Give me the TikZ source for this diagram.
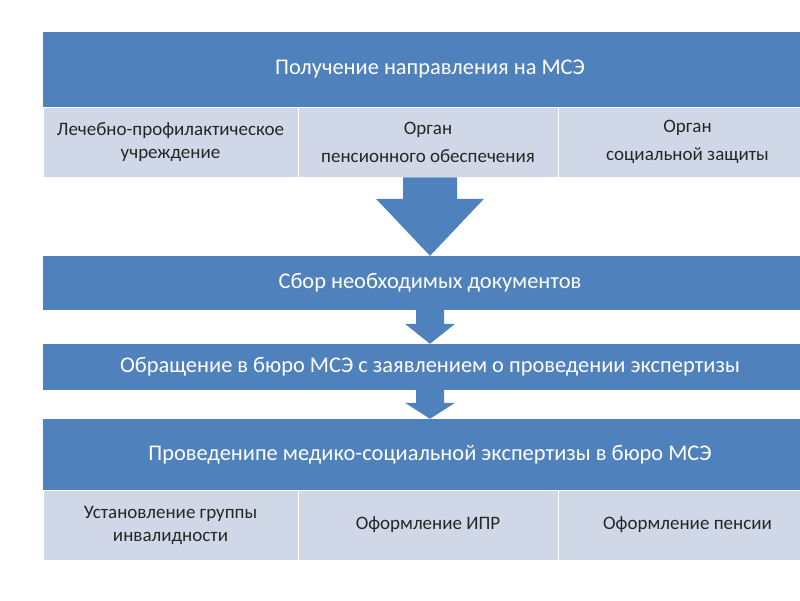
\documentclass[tikz,border=0pt]{standalone}
\usepackage{fontspec}
\setmainfont{Carlito}
\usepackage{tikz}
\usetikzlibrary{calc,positioning}
\definecolor{hdrblue}{RGB}{79,129,189}
\definecolor{cellblue}{RGB}{208,216,232}
\definecolor{celltext}{RGB}{38,38,38}
\tikzstyle{header}=[fill=hdrblue, text=white, minimum width=774pt, inner sep=0pt, font=\fontsize{22.4}{26}\selectfont]
\tikzstyle{cell}=[fill=cellblue, draw=white, line width=0.8pt, text=celltext, align=center, inner sep=0pt, minimum height=70pt, font=\fontsize{19}{23}\selectfont]
% from, to, half shaft, half head, head length
\newcommand{\blockarrow}[5]{%
  \fill[hdrblue] ($(#1)+(-#3,0)$) -- ($(#1)+(#3,0)$) -- ($(#2)+(#3,-#5)$) -- ($(#2)+(#4,-#5)$)
    -- (#2) -- ($(#2)+(-#4,-#5)$) -- ($(#2)+(-#3,-#5)$) -- cycle;}

\begin{document}
\begin{tikzpicture}[x=1pt, y=-1pt]
    \useasboundingbox (0,0) rectangle (800,600);
    \clip (0,0) rectangle (800,600);
    \coordinate (axis) at (430,0);

    % Step 1 with its three sources
    \node[header, minimum height=75pt] (recv) at (430,69.5) {Получение направления на МСЭ};
    \node[cell, minimum width=255pt] (lpu) at (170.5,142) {Лечебно-профилактическое\\учреждение};
    \node[cell, minimum width=260pt] (pens) at (428,142) {Орган\\[5pt]пенсионного обеспечения};
    \node[cell, minimum width=259pt] (soc) at (687.5,142) {Орган\\[5pt]социальной защиты};

    % Steps 2 and 3
    \node[header, minimum height=54pt] (collect) at (430,283) {Сбор необходимых документов};
    \node[header, minimum height=46pt] (apply) at (430,367) {Обращение в бюро МСЭ с заявлением о проведении экспертизы};

    % Step 4 with its results
    \node[header, minimum height=71pt] (exam) at (430,454.5) {Проведенипе медико-социальной экспертизы в бюро МСЭ};
    \node[cell, minimum width=255pt] (group) at (170.5,525) {Установление группы\\инвалидности};
    \node[cell, minimum width=260pt] (ipr) at (428,525) {Оформление ИПР};
    \node[cell, minimum width=259pt] (pension) at (687.5,525) {Оформление пенсии};

    % Block arrows between the steps
    \coordinate (a1s) at (pens.south -| axis);
    \coordinate (a1e) at (collect.north -| axis);
    \coordinate (a2s) at (collect.south -| axis);
    \coordinate (a2e) at (apply.north -| axis);
    \coordinate (a3s) at (apply.south -| axis);
    \coordinate (a3e) at (exam.north -| axis);
    \blockarrow{a1s}{a1e}{27}{54}{57}
    \blockarrow{a2s}{a2e}{14}{25}{20}
    \blockarrow{a3s}{a3e}{14}{25}{16}
\end{tikzpicture}
\end{document}
